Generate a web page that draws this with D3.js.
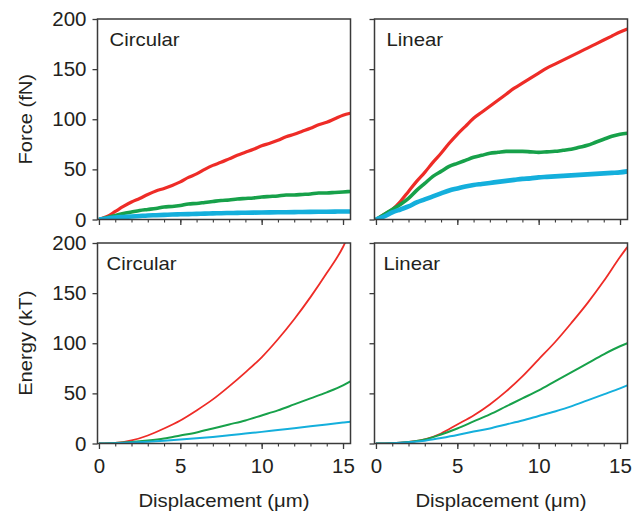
<!DOCTYPE html>
<html>
<head>
<meta charset="utf-8">
<script src="https://cdn.jsdelivr.net/npm/d3@7"></script>
<style>
  body { margin: 0; background: #fff; }
  text { font-family: "Liberation Sans", Arial, sans-serif; fill: #231f20; }
</style>
</head>
<body>
<svg id="chart" width="633" height="512"></svg>
<script>
// displacement (um) for the force traces and the energy curves
var forceX = [0, 0.5, 1, 1.5, 2, 2.5, 3, 3.5, 4, 4.5, 5, 5.5, 6, 6.5, 7, 7.5, 8, 8.5, 9, 9.5, 10, 10.5, 11, 11.5, 12, 12.5, 13, 13.5, 14, 14.5, 15, 15.45];
var energyX = [0, 1, 2, 3, 4, 5, 6, 7, 8, 9, 10, 11, 12, 13, 14, 15, 15.45];

// Force (fN), circular
var circRedF   = [0, 3, 8, 13, 17.5, 21, 25, 28.5, 31, 34, 37.5, 42, 45.5, 50, 54, 57, 60.5, 64, 67, 70, 73.5, 76, 79, 82.5, 85, 88, 91, 94.5, 97, 100.5, 104, 106];
var circGreenF = [0, 2, 4, 6, 7.5, 9, 10, 11, 12.5, 13, 14, 15.5, 16, 17, 18, 19, 19.5, 20.5, 21, 21.5, 22.5, 23, 23.5, 24.5, 24.5, 25, 25.5, 26.5, 26.5, 27, 27.5, 28];
var circCyanF  = [0, 1, 2, 2.5, 3, 3.5, 4, 4.3, 4.6, 5, 5.2, 5.4, 5.6, 5.9, 6.1, 6.3, 6.5, 6.6, 6.8, 6.9, 7, 7.1, 7.2, 7.3, 7.4, 7.5, 7.6, 7.7, 7.8, 7.9, 8, 8];

// Force (fN), linear
var linRedF   = [0, 5, 10, 18, 28, 38, 47, 57, 66, 76, 85, 93, 101, 107, 113, 119, 125, 131, 136, 141, 146, 151, 155, 159, 163, 167, 171, 175, 179, 183, 187, 190];
var linGreenF = [0, 5, 10, 15, 21, 29, 36, 43, 48, 53, 56, 59, 62, 64, 66, 67, 68, 68, 68, 67.5, 67, 67.5, 68, 69, 70, 72, 74, 77, 80, 83, 85, 86];
var linCyanF  = [0, 3, 7, 10, 13, 17, 20, 23, 26, 29, 31, 33, 34.5, 35.5, 36.5, 37.5, 38.5, 39.5, 40.5, 41, 42, 42.5, 43, 43.5, 44, 44.5, 45, 45.5, 46, 46.5, 47, 48];

// Energy (kT), circular
var circRedE   = [0, 0.5, 3, 8, 15, 23, 33, 44, 57, 71, 86, 104, 124, 146, 170, 196, 212];
var circGreenE = [0, 0.5, 1.5, 3, 5, 8, 11, 15, 19, 23, 28, 33, 39, 45, 51, 58, 62];
var circCyanE  = [0, 0.3, 0.9, 1.7, 2.7, 3.9, 5.2, 6.6, 8.2, 9.9, 11.6, 13.4, 15.2, 17.1, 19, 20.9, 21.7];

// Energy (kT), linear
var linRedE   = [0, 0.3, 1.5, 4, 10, 19, 28, 39, 52, 67, 84, 101, 120, 140, 162, 186, 196];
var linGreenE = [0, 0.3, 1.5, 4, 9, 15, 22, 29, 37, 45, 53, 62, 71, 80, 89, 97, 100];
var linCyanE  = [0, 0.3, 1.2, 2.8, 5.5, 8.5, 12, 15, 19, 23, 27.5, 32, 37, 43, 49, 55, 58];

var yTicks = [0, 50, 100, 150, 200];
var xMajor = [0, 5, 10, 15];
var xMinor = d3.range(0, 16, 1);

var colors = { red: "#ee2c27", green: "#17a14a", cyan: "#14afdc" };
var axisColor = "#3a3a3a";

var svg = d3.select("#chart");

var panels = [
  { name: "Circular", left: 97.5, top: 19, yLabel: "Force (fN)", showY: true, showX: false,
    xs: forceX, series: [circRedF, circGreenF, circCyanF], widths: [3.2, 3.6, 4.6] },
  { name: "Linear", left: 374.5, top: 19, yLabel: null, showY: false, showX: false,
    xs: forceX, series: [linRedF, linGreenF, linCyanF], widths: [3.2, 3.6, 4.6] },
  { name: "Circular", left: 97.5, top: 243, yLabel: "Energy (kT)", showY: true, showX: true,
    xs: energyX, series: [circRedE, circGreenE, circCyanE], widths: [1.8, 2, 2] },
  { name: "Linear", left: 374.5, top: 243, yLabel: null, showY: false, showX: true,
    xs: energyX, series: [linRedE, linGreenE, linCyanE], widths: [1.8, 2, 2] }
];
var pw = 253, ph = 200.5;
var seriesColors = [colors.red, colors.green, colors.cyan];

function stretch(sel, k) {
  sel.each(function () {
    var len = this.getComputedTextLength();
    d3.select(this).attr("textLength", len * k).attr("lengthAdjust", "spacingAndGlyphs");
  });
}

panels.forEach(function (p, i) {
  var g = svg.append("g").attr("transform", "translate(" + p.left + "," + p.top + ")");
  var x = d3.scaleLinear().domain([-0.09, 15.46]).range([0, pw]);
  var y = d3.scaleLinear().domain([0, 200]).range([ph, 0]);

  g.append("clipPath").attr("id", "clip" + i)
    .append("rect").attr("width", pw).attr("height", ph);

  // data lines
  var line = d3.line()
    .x(function (d) { return x(d[0]); })
    .y(function (d) { return y(d[1]); })
    .curve(d3.curveMonotoneX);

  p.series.forEach(function (vals, j) {
    var pts = p.xs.map(function (xv, k) { return [xv, vals[k]]; });
    g.append("path")
      .attr("clip-path", "url(#clip" + i + ")")
      .attr("d", line(pts))
      .attr("fill", "none")
      .attr("stroke", seriesColors[j])
      .attr("stroke-width", p.widths[j])
      .attr("stroke-linejoin", "round");
  });

  // frame
  g.append("rect").attr("width", pw).attr("height", ph)
    .attr("fill", "none").attr("stroke", axisColor).attr("stroke-width", 1.5);

  // y axis ticks
  var yAxis = d3.axisLeft(y).tickValues(yTicks).tickSize(5).tickPadding(6)
    .tickFormat(p.showY ? d3.format("d") : "");
  var ya = g.append("g").call(yAxis);
  ya.select(".domain").remove();
  ya.selectAll("line").attr("stroke", axisColor).attr("stroke-width", 1.3);
  ya.selectAll("text").attr("font-size", 20.5).attr("font-family", "Liberation Sans, Arial, sans-serif")
    .attr("fill", "#231f20");

  // x minor ticks
  var xMin = d3.axisBottom(x).tickValues(xMinor).tickSize(3).tickFormat("");
  var xm = g.append("g").attr("transform", "translate(0," + ph + ")").call(xMin);
  xm.select(".domain").remove();
  xm.selectAll("line").attr("stroke", axisColor).attr("stroke-width", 1.1);

  // x major ticks
  var xAxis = d3.axisBottom(x).tickValues(xMajor).tickSize(5.5).tickPadding(9)
    .tickFormat(p.showX ? d3.format("d") : "");
  var xa = g.append("g").attr("transform", "translate(0," + ph + ")").call(xAxis);
  xa.select(".domain").remove();
  xa.selectAll("line").attr("stroke", axisColor).attr("stroke-width", 1.3);
  xa.selectAll("text").attr("font-size", 20.5).attr("font-family", "Liberation Sans, Arial, sans-serif")
    .attr("fill", "#231f20");

  // panel title
  var t = g.append("text")
    .attr("x", p.top < 100 ? 12 : 9)
    .attr("y", 26.5)
    .attr("font-size", 18.5)
    .text(p.name);
  stretch(t, 1.1);

  if (p.yLabel) {
    var yl = svg.append("text")
      .attr("transform", "translate(32," + (p.top + ph / 2) + ") rotate(-90)")
      .attr("text-anchor", "middle")
      .attr("font-size", 19)
      .text(p.yLabel);
    stretch(yl, 1.06);
  }
  if (p.showX) {
    var xl = svg.append("text")
      .attr("x", p.left + pw / 2)
      .attr("y", 507)
      .attr("text-anchor", "middle")
      .attr("font-size", 18.5)
      .text("Displacement (\u03bcm)");
    stretch(xl, 1.1);
  }
});
</script>
</body>
</html>
